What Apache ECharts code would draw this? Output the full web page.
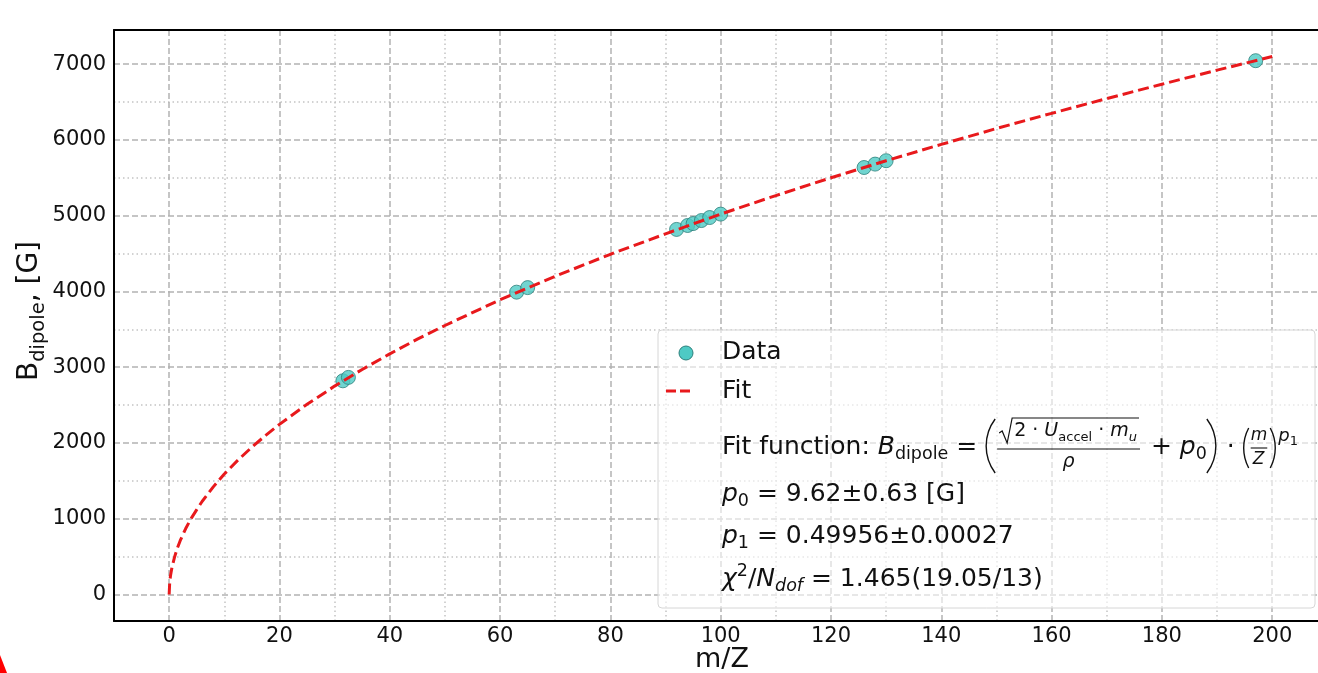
<!DOCTYPE html>
<html>
<head>
<meta charset="utf-8">
<script src="https://cdn.jsdelivr.net/npm/echarts@6/dist/echarts.min.js"></script>
<style>
  html, body { margin: 0; padding: 0; background: #fff; }
  #chart { width: 1318px; height: 673px; }
</style>
</head>
<body>
<div id="chart"></div>
<script>
// measured points (m/Z, B dipole in G)
const dataX = [31.5, 32.5, 63, 65, 92, 94, 95, 96.5, 98, 100, 126, 128, 130, 197];
const dataY = [2820, 2865, 3990, 4050, 4818, 4870, 4895, 4935, 4975, 5020, 5635, 5680, 5725, 7045];

// fit curve
const fitX = [0, 0.1, 0.25, 0.5, 1, 1.5, 2, 3, 4, 5, 6, 8, 10, 12.5, 15, 17.5, 20, 25, 30, 35, 40, 45, 50,
  60, 70, 80, 90, 100, 110, 120, 130, 140, 150, 160, 170, 180, 190, 200];
const fitY = [0, 160, 250, 355, 500, 615, 710, 870, 1005, 1120, 1230, 1420, 1590, 1775, 1945, 2100, 2245,
  2510, 2750, 2970, 3175, 3370, 3550, 3890, 4200, 4490, 4760, 5020, 5265, 5500, 5725, 5940, 6150, 6350,
  6545, 6735, 6920, 7100];

// ticks
const xMajor = [0, 20, 40, 60, 80, 100, 120, 140, 160, 180, 200];
const xMinor = [10, 30, 50, 70, 90, 110, 130, 150, 170, 190];
const yMajor = [0, 1000, 2000, 3000, 4000, 5000, 6000, 7000];
const yMinor = [500, 1500, 2500, 3500, 4500, 5500, 6500];

const FONT = '"DejaVu Sans", sans-serif';
const INK = '#111111';
const RED = '#e8191c';
const GRID = '#b3b3b3';

var chart = echarts.init(document.getElementById('chart'));

// little text layout helper (subscripts etc), returns the end x
const ctx = document.createElement('canvas').getContext('2d');
function fontOf(size, italic) {
  return (italic ? 'italic ' : '') + size + 'px ' + FONT;
}
function textRun(x, base, parts, out) {
  parts.forEach(function (p) {
    var size = p[1];
    var f = fontOf(size, p[2]);
    out.push({
      type: 'text', x: x, y: base + (p[3] || 0) - 0.35 * size, z: 101,
      style: { text: p[0], font: f, fill: INK, textAlign: 'left', textVerticalAlign: 'middle', verticalAlign: 'middle' }
    });
    ctx.font = f;
    x += ctx.measureText(p[0]).width;
  });
  return x;
}
function paren(x, cy, half, sag, left, out) {
  var r = (half * half + sag * sag) / (2 * sag);
  var a = Math.asin(half / r);
  out.push({
    type: 'arc', z: 101,
    shape: left ? { cx: x + r, cy: cy, r: r, startAngle: Math.PI - a, endAngle: Math.PI + a, clockwise: true }
                : { cx: x - r, cy: cy, r: r, startAngle: -a, endAngle: a, clockwise: true },
    style: { stroke: INK, fill: null, lineWidth: 1.4 }
  });
}

var legend = [];
legend.push({
  type: 'rect', z: 100,
  shape: { x: 658, y: 330, width: 657, height: 278, r: 4 },
  style: { fill: 'rgba(255,255,255,0.6)', stroke: '#d6d6d6', lineWidth: 1 }
});
legend.push({
  type: 'circle', z: 101, shape: { cx: 686, cy: 353, r: 7 },
  style: { fill: '#4ecac4', stroke: '#2c7f7b', lineWidth: 1 }
});
textRun(722, 361, [['Data', 25]], legend);
legend.push({
  type: 'line', z: 101, shape: { x1: 666, y1: 391, x2: 690, y2: 391 },
  style: { stroke: RED, lineWidth: 3, lineDash: [10, 4] }
});
textRun(722, 400, [['Fit', 25]], legend);

// Fit function line
var base = 456;
var x = textRun(722, base, [['Fit function: ', 25], ['B', 25, true], ['dipole', 17.5, false, 5], [' = ', 25]], legend);
var pl = x + 1;
paren(pl, 446, 27, 9, true, legend);
var xn = pl + 13;
var xe = textRun(xn + 15, 438, [['2 · ', 19], ['U', 19, true], ['accel', 13, false, 4], [' · ', 19], ['m', 19, true], ['u', 13, true, 4]], legend);
legend.push({
  type: 'polyline', z: 101,
  shape: { points: [[xn, 433], [xn + 3, 431], [xn + 8, 443], [xn + 13, 418], [xe + 2, 418]] },
  style: { stroke: INK, fill: null, lineWidth: 1.2 }
});
legend.push({
  type: 'line', z: 101, shape: { x1: pl + 11, y1: 449, x2: xe + 3, y2: 449 },
  style: { stroke: INK, lineWidth: 1.2 }
});
ctx.font = fontOf(19, true);
var rw = ctx.measureText('ρ').width;
textRun((pl + 11 + xe + 3) / 2 - rw / 2, 469, [['ρ', 19, true]], legend);
x = textRun(xe + 6, base, [[' + ', 25], ['p', 25, true], ['0', 17.5, false, 5]], legend);
paren(x + 9, 446, 27, 9, false, legend);
x = textRun(x + 12, base, [[' · ', 25]], legend);
paren(x + 1, 448, 20, 5, true, legend);
ctx.font = fontOf(17, true);
var mw = ctx.measureText('m').width;
textRun(x + 8, 442, [['m', 17, true]], legend);
legend.push({
  type: 'line', z: 101, shape: { x1: x + 8, y1: 448, x2: x + 8 + mw, y2: 448 },
  style: { stroke: INK, lineWidth: 1.1 }
});
textRun(x + 10, 466, [['Z', 17, true]], legend);
paren(x + 16 + mw, 448, 20, 5, false, legend);
textRun(x + 19 + mw, 443, [['p', 18, true], ['1', 13, false, 3]], legend);

textRun(722, 503, [['p', 25, true], ['0', 17.5, false, 5], [' = 9.62±0.63 [G]', 25]], legend);
textRun(722, 545, [['p', 25, true], ['1', 17.5, false, 5], [' = 0.49956±0.00027', 25]], legend);
textRun(722, 588, [['χ', 25, true], ['2', 17.5, false, -10], ['/', 25], ['N', 25, true], ['dof', 17.5, true, 5],
  [' = 1.465(19.05/13)', 25]], legend);

// y axis title, rotated
var ylab = [];
var yEnd = textRun(0, 0, [['B', 28], ['dipole', 19.5, false, 6], [', [G]', 28]], ylab);
var yTitle = { type: 'group', x: 40, y: 311 + yEnd / 2, rotation: Math.PI / 2, children: ylab };

function plain(v) { return String(v); }

var option = {
  animation: false,
  grid: { left: 114, top: 30, right: 0, bottom: 52 },
  xAxis: [{
    type: 'value', min: -10, max: 208.3, interval: 10, position: 'bottom',
    axisLine: { show: true, onZero: false, lineStyle: { color: '#000', width: 2 } },
    axisTick: { show: false, customValues: xMajor },
    axisLabel: { customValues: xMajor, formatter: plain, fontSize: 21, fontFamily: FONT, color: INK, margin: 5 },
    splitLine: { show: true, lineStyle: { color: GRID, width: 1.5, type: [6, 3] } }
  }, {
    type: 'value', min: -10, max: 208.3, interval: 10, position: 'top',
    axisLine: { show: true, onZero: false, lineStyle: { color: '#000', width: 2 } },
    axisTick: { show: false, customValues: xMinor },
    axisLabel: { show: false },
    splitLine: { show: true, lineStyle: { color: '#c4c4c4', width: 1.5, type: [1.5, 3] } }
  }],
  yAxis: [{
    type: 'value', min: -350, max: 7450, interval: 50, position: 'left',
    axisLine: { show: true, onZero: false, lineStyle: { color: '#000', width: 2 } },
    axisTick: { show: false, customValues: yMajor },
    axisLabel: { customValues: yMajor, formatter: plain, fontSize: 21, fontFamily: FONT, color: INK, margin: 8 },
    splitLine: { show: true, lineStyle: { color: GRID, width: 1.5, type: [6, 3] } }
  }, {
    type: 'value', min: -350, max: 7450, interval: 50, position: 'right',
    axisLine: { show: false },
    axisTick: { show: false, customValues: yMinor },
    axisLabel: { show: false },
    splitLine: { show: true, lineStyle: { color: '#c4c4c4', width: 1.5, type: [1.5, 3] } }
  }],
  series: [{
    name: 'Data', type: 'scatter', xAxisIndex: 0, yAxisIndex: 0, z: 3,
    symbolSize: 14,
    itemStyle: { color: '#4ecac4', borderColor: '#2c7f7b', borderWidth: 1 },
    data: dataX.map(function (v, i) { return [v, dataY[i]]; })
  }, {
    name: 'Fit', type: 'line', xAxisIndex: 0, yAxisIndex: 0, z: 4,
    showSymbol: false, smooth: false,
    lineStyle: { color: RED, width: 3, type: [11, 5] },
    data: fitX.map(function (v, i) { return [v, fitY[i]]; })
  }],
  graphic: [{
    type: 'group', children: legend
  }, yTitle, {
    type: 'text', x: 722, y: 660, z: 101,
    style: { text: 'm/Z', font: '27px ' + FONT, fill: INK, textAlign: 'center', textVerticalAlign: 'middle', verticalAlign: 'middle' }
  }, {
    type: 'polygon', z: 101,
    shape: { points: [[0, 655], [7, 673], [0, 673]] },
    style: { fill: '#ff0000' }
  }]
};

chart.setOption(option);
</script>
</body>
</html>
